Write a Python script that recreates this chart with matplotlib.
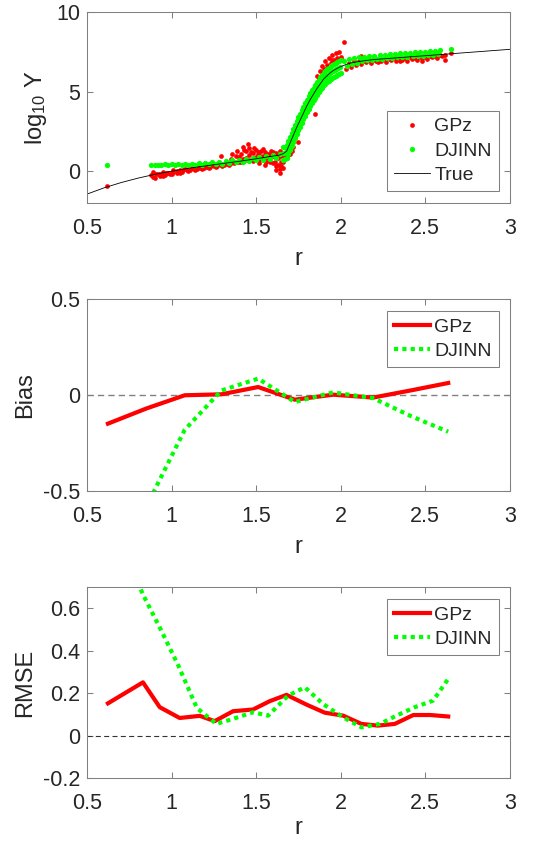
import matplotlib
matplotlib.use("Agg")
import matplotlib.pyplot as plt

plt.rcParams['font.family'] = ['Liberation Sans', 'DejaVu Sans']
plt.rcParams['mathtext.fontset'] = 'custom'
plt.rcParams['mathtext.rm'] = 'Liberation Sans'
plt.rcParams['mathtext.it'] = 'Liberation Sans:italic'

# --- true curve
true_r = [0.5, 0.6, 0.7, 0.8, 0.9, 1.0, 1.1, 1.2, 1.3, 1.4, 1.5, 1.6, 1.64, 1.66, 1.68,
          1.70, 1.72, 1.74, 1.76, 1.78, 1.80, 1.82, 1.84, 1.86, 1.88, 1.90, 1.92, 1.94,
          1.96, 1.98, 2.00, 2.03, 2.06, 2.1, 2.15, 2.2, 2.3, 2.4, 2.5, 2.6, 2.7, 2.8, 2.9, 3.0]
true_y = [-1.44, -1.05, -0.72, -0.44, -0.2, 0.0, 0.18, 0.33, 0.48, 0.62, 0.78, 0.95, 1.02, 1.1, 1.25,
          1.75, 2.25, 2.75, 3.2, 3.65, 4.1, 4.5, 4.85, 5.2, 5.5, 5.8, 6.0, 6.2,
          6.35, 6.47, 6.57, 6.7, 6.8, 6.88, 6.96, 7.02, 7.1, 7.18, 7.26, 7.34, 7.42, 7.5, 7.58, 7.66]

# --- GPz predictions (red dots)
gpz_r = [0.62,
         0.88, 0.89, 0.90, 0.92, 0.93, 0.95, 0.96, 0.98, 1.00, 1.01, 1.03, 1.05, 1.06, 1.08,
         1.10, 1.12, 1.14, 1.16, 1.18, 1.20, 1.22, 1.24, 1.26, 1.28, 1.29, 1.30, 1.32, 1.34,
         1.35, 1.37, 1.38, 1.40, 1.41, 1.42, 1.43, 1.44, 1.45, 1.46, 1.47, 1.48, 1.49, 1.50,
         1.51, 1.52, 1.53, 1.54, 1.55, 1.56, 1.57, 1.58, 1.59, 1.60, 1.61, 1.62, 1.63, 1.64,
         1.65, 1.66, 1.67, 1.68, 1.69, 1.70, 1.71, 1.72, 1.75, 1.85,
         0.89, 0.91, 0.93, 0.95, 0.97, 0.99, 1.01, 1.03, 1.05, 1.07, 1.09, 1.11, 1.13, 1.15,
         1.17, 1.19, 1.21, 1.23, 1.25, 1.27, 1.29, 1.31, 1.33, 1.35, 1.37, 1.39, 1.41, 1.43,
         1.45, 1.47, 1.49, 1.51, 1.53, 1.55, 1.57, 1.59, 1.61, 1.63, 1.65,
         1.36, 1.39, 1.42, 1.44, 1.46, 1.48, 1.50, 1.52, 1.54, 1.56, 1.58, 1.60, 1.62, 1.64,
         1.40, 1.52, 1.52, 1.55, 1.58, 1.61, 1.63, 1.65, 1.66, 1.64, 1.62,
         1.86, 1.87, 1.88, 1.89, 1.90, 1.91, 1.92, 1.93, 1.94, 1.95, 1.96, 1.97, 1.98, 1.99,
         2.00, 2.01, 2.02, 1.90, 1.92, 1.94, 1.96, 1.98, 2.00, 1.95,
         2.03, 2.06, 2.09, 2.12, 2.12, 2.15, 2.18, 2.21, 2.24, 2.27, 2.30,
         2.33, 2.36, 2.39, 2.42, 2.45, 2.45, 2.48, 2.51, 2.54, 2.57, 2.60, 2.62, 2.62, 2.65,
         2.05, 2.08, 2.11, 2.14, 2.17, 2.20, 2.23, 2.26, 2.29, 2.32, 2.35, 2.38, 2.41, 2.44,
         2.47, 2.50, 2.53, 2.56, 2.59, 2.22, 2.35, 2.48]
gpz_y = [-0.9,
         -0.25, -0.05, -0.4, -0.15, -0.3, -0.05, -0.25, -0.1, -0.2, 0.05, -0.1, 0.1, -0.05, 0.12,
         0.0, 0.2, 0.1, 0.25, 0.12, 0.3, 0.2, 0.38, 0.25, 0.45, 0.95, 0.35, 0.55, 0.4,
         0.75, 0.5, 0.95, 0.6, 1.1, 0.75, 1.35, 0.85, 1.7, 1.0, 1.2, 0.65, 1.45, 0.9,
         1.1, 0.7, 1.3, 0.95, 1.2, 0.6, 1.1, 0.8, 1.25, 0.5, 1.05, 0.3, 0.8, -0.1,
         0.6, 0.2, 0.9, 0.8, 1.0, 1.1, 1.3, 1.5, 1.85, 3.6,
         -0.35, -0.2, -0.15, -0.3, -0.1, -0.15, -0.05, 0.0, -0.1, 0.05, 0.1, 0.08, 0.15, 0.12,
         0.2, 0.22, 0.25, 0.28, 0.3, 0.35, 0.4, 0.42, 0.45, 0.5, 0.55, 0.55, 0.6, 0.62,
         0.7, 0.7, 0.75, 0.8, 0.8, 0.85, 0.85, 0.9, 0.9, 0.95, 0.95,
         1.05, 1.25, 1.5, 1.3, 1.45, 1.15, 1.35, 1.2, 1.4, 1.05, 1.1, 1.2, 1.15, 1.3,
         0.9, 1.0, 0.5, 0.4, 0.55, 0.6, 0.4, 0.3, 0.6, 0.15, 0.1,
         6.0, 5.8, 6.3, 6.6, 6.4, 6.9, 6.7, 7.1, 6.8, 7.3, 7.0, 7.4, 7.1, 7.5,
         7.2, 7.0, 8.1, 6.1, 6.5, 6.6, 6.8, 6.9, 7.0, 7.0,
         6.4, 6.55, 6.7, 6.75, 7.25, 6.85, 6.82, 6.9, 6.95, 6.88, 7.0,
         6.95, 7.02, 6.9, 7.05, 7.0, 7.35, 7.1, 7.05, 7.15, 7.1, 7.25, 7.3, 7.0, 7.4,
         6.8, 6.9, 6.95, 6.95, 7.0, 7.02, 7.0, 7.05, 7.05, 7.1, 7.1, 7.1, 7.15, 7.1,
         7.2, 7.2, 7.25, 7.22, 7.3, 6.85, 6.9, 6.95]

# --- DJINN predictions (green dots)
djinn_r = [0.62, 2.65,
           # low branch, upper and lower edge of the band
           0.88, 0.92, 0.96, 1.00, 1.04, 1.08, 1.12, 1.16, 1.20, 1.24, 1.28, 1.32, 1.36, 1.40,
           1.44, 1.48, 1.52, 1.56, 1.60, 1.64,
           0.90, 0.94, 0.98, 1.02, 1.06, 1.10, 1.14, 1.18, 1.22, 1.26, 1.30, 1.34, 1.38, 1.42,
           1.46, 1.50, 1.54, 1.58, 1.62,
           # steep part, three rows
           1.66, 1.67, 1.68, 1.69, 1.70, 1.71, 1.72, 1.73, 1.74, 1.75, 1.76, 1.77, 1.78, 1.79,
           1.80, 1.81, 1.82, 1.83, 1.84, 1.85, 1.86, 1.87, 1.88, 1.89, 1.90, 1.91, 1.92, 1.93,
           1.94, 1.95, 1.96, 1.97, 1.98, 1.99, 2.00,
           1.66, 1.67, 1.68, 1.69, 1.70, 1.71, 1.72, 1.73, 1.74, 1.75, 1.76, 1.77, 1.78, 1.79,
           1.80, 1.81, 1.82, 1.83, 1.84, 1.85, 1.86, 1.87, 1.88, 1.89, 1.90, 1.91, 1.92, 1.93,
           1.94, 1.95, 1.96, 1.97, 1.98, 1.99, 2.00,
           1.665, 1.675, 1.685, 1.695, 1.705, 1.715, 1.725, 1.735, 1.745, 1.755, 1.765, 1.775,
           1.785, 1.795, 1.805, 1.815, 1.825, 1.835, 1.845, 1.855, 1.865, 1.875, 1.885, 1.895,
           1.905, 1.915, 1.925, 1.935, 1.945, 1.955, 1.965, 1.975, 1.985, 1.995,
           # plateau, two rows
           2.02, 2.05, 2.08, 2.11, 2.14, 2.17, 2.20, 2.23, 2.26, 2.29, 2.32, 2.35, 2.38, 2.41,
           2.44, 2.47, 2.50, 2.53, 2.56, 2.59,
           2.035, 2.065, 2.095, 2.125, 2.155, 2.185, 2.215, 2.245, 2.275, 2.305, 2.335, 2.365,
           2.395, 2.425, 2.455, 2.485, 2.515, 2.545, 2.575]
djinn_y = [0.4, 7.68,
           0.42, 0.42, 0.43, 0.44, 0.45, 0.46, 0.48, 0.50, 0.53, 0.56, 0.60, 0.64, 0.68, 0.73,
           0.78, 0.83, 0.88, 0.94, 1.00, 1.10,
           0.36, 0.37, 0.38, 0.39, 0.40, 0.41, 0.42, 0.42, 0.44, 0.46, 0.48, 0.52, 0.56, 0.60,
           0.64, 0.68, 0.72, 0.78, 0.85,
           1.5, 1.55, 1.65, 1.88, 2.15, 2.4, 2.65, 2.9, 3.15, 3.38, 3.6, 3.83, 4.05, 4.28,
           4.5, 4.7, 4.9, 5.08, 5.25, 5.43, 5.6, 5.75, 5.9, 6.05, 6.2, 6.3, 6.4, 6.5,
           6.6, 6.68, 6.75, 6.81, 6.87, 6.92, 6.97,
           0.7, 0.75, 0.85, 1.08, 1.35, 1.6, 1.85, 2.1, 2.35, 2.58, 2.8, 3.03, 3.25, 3.48,
           3.7, 3.9, 4.1, 4.28, 4.45, 4.63, 4.8, 4.95, 5.1, 5.25, 5.4, 5.5, 5.6, 5.7,
           5.8, 5.88, 5.95, 6.01, 6.07, 6.12, 6.17,
           1.12, 1.2, 1.37, 1.62, 1.88, 2.12, 2.38, 2.62, 2.86, 3.09, 3.32, 3.54, 3.76, 3.99,
           4.2, 4.4, 4.59, 4.76, 4.94, 5.11, 5.28, 5.43, 5.58, 5.72, 5.85, 5.95, 6.05, 6.15,
           6.24, 6.31, 6.38, 6.44, 6.49, 6.55,
           6.95, 7.03, 7.1, 7.16, 7.2, 7.24, 7.27, 7.3, 7.33, 7.35, 7.38, 7.4, 7.42, 7.45,
           7.47, 7.5, 7.52, 7.54, 7.57, 7.6,
           6.6, 6.72, 6.82, 6.9, 6.96, 7.0, 7.04, 7.07, 7.1, 7.12, 7.15, 7.17, 7.2, 7.22,
           7.25, 7.27, 7.3, 7.32, 7.35]

# --- bias per bin
bias_r = [0.624, 0.851, 1.078, 1.295, 1.512, 1.729, 1.956, 2.192, 2.419, 2.636]
gpz_bias = [-0.148, -0.069, 0.0, 0.005, 0.043, -0.023, 0.003, -0.012, 0.026, 0.064]
djinn_bias = [-1.3, -0.58, -0.18, 0.025, 0.087, -0.035, 0.015, -0.015, -0.11, -0.19]

# --- RMSE per bin
gpz_rmse_r = [0.624, 0.831, 0.93, 1.048, 1.167, 1.255, 1.364, 1.482, 1.58, 1.68, 1.798,
              1.906, 2.015, 2.123, 2.22, 2.32, 2.43, 2.53, 2.636]
gpz_rmse = [0.152, 0.251, 0.134, 0.083, 0.093, 0.068, 0.115, 0.123, 0.162, 0.192, 0.146,
            0.108, 0.094, 0.055, 0.047, 0.055, 0.097, 0.097, 0.090]
djinn_rmse_r = [0.624, 0.831, 0.93, 1.04, 1.15, 1.265, 1.364, 1.482, 1.571, 1.689, 1.788,
                1.896, 2.015, 2.123, 2.232, 2.33, 2.439, 2.547, 2.636]
djinn_rmse = [1.05, 0.665, 0.51, 0.33, 0.13, 0.055, 0.079, 0.11, 0.094, 0.188, 0.228,
              0.149, 0.086, 0.039, 0.055, 0.094, 0.134, 0.165, 0.267]

RED = '#ff0000'
GREEN = '#00ff00'
TXT = '#262626'
SPINE = '#808080'

fig = plt.figure(figsize=(5.42, 8.41), dpi=100)


def style(ax, ylim, yticks, ylabel, xpad=6):
    ax.set_xlim(0.5, 3)
    ax.set_ylim(*ylim)
    ax.set_xticks([0.5, 1, 1.5, 2, 2.5, 3])
    ax.set_xticklabels(['0.5', '1', '1.5', '2', '2.5', '3'])
    ax.set_yticks(yticks)
    ax.set_yticklabels(['%g' % t for t in yticks])
    ax.tick_params(direction='in', top=True, right=True, length=4, width=0.75,
                   color=SPINE, labelsize=15.5, labelcolor=TXT)
    ax.tick_params(axis='x', pad=11)
    ax.tick_params(axis='y', pad=5)
    for s in ax.spines.values():
        s.set_color(SPINE)
        s.set_linewidth(0.75)
    ax.set_xlabel('r', fontsize=17, color=TXT, labelpad=xpad)
    ax.set_ylabel(ylabel, fontsize=17, color=TXT, labelpad=5)


def leg(ax, y):
    lg = ax.legend(loc='upper right', bbox_to_anchor=(0.974, y), borderaxespad=0,
                   fontsize=14, frameon=True, fancybox=False, framealpha=1,
                   handlelength=1.85, handletextpad=0.25, borderpad=0.35,
                   labelspacing=0.35)
    lg.get_frame().set_edgecolor(SPINE)
    lg.get_frame().set_linewidth(0.75)
    for t in lg.get_texts():
        t.set_color(TXT)


# top panel
ax1 = fig.add_axes([0.1605, 0.7586, 0.780, 0.227])
ax1.plot(gpz_r, gpz_y, 'o', color=RED, markersize=3.4, markeredgewidth=0, label='GPz')
ax1.plot(djinn_r, djinn_y, 'o', color=GREEN, markersize=3.8, markeredgewidth=0, label='DJINN')
ax1.plot(true_r, true_y, '-', color='k', linewidth=0.6, label='True')
style(ax1, (-2, 10), [0, 5, 10], r'log$_{\mathregular{10}}$ Y')
leg(ax1, 0.482)

# bias panel
ax2 = fig.add_axes([0.1605, 0.416, 0.780, 0.228])
ax2.axhline(0, color='#808080', linewidth=1, dashes=(4.5, 3))
ax2.plot(bias_r, gpz_bias, '-', color=RED, linewidth=3, label='GPz')
ax2.plot(bias_r, djinn_bias, color=GREEN, linewidth=3, linestyle=(0, (1, 1)), label='DJINN')
style(ax2, (-0.5, 0.5), [-0.5, 0, 0.5], 'Bias')
leg(ax2, 0.9375)

# RMSE panel
ax3 = fig.add_axes([0.1605, 0.0749, 0.780, 0.227])
ax3.axhline(0, color='#333333', linewidth=0.8, dashes=(4.5, 3))
ax3.plot(gpz_rmse_r, gpz_rmse, '-', color=RED, linewidth=3, label='GPz')
ax3.plot(djinn_rmse_r, djinn_rmse, color=GREEN, linewidth=3, linestyle=(0, (1, 1)), label='DJINN')
style(ax3, (-0.2, 0.7), [-0.2, 0, 0.2, 0.4, 0.6], 'RMSE', xpad=2)
leg(ax3, 0.937)

fig.savefig('out.png', dpi=100)
